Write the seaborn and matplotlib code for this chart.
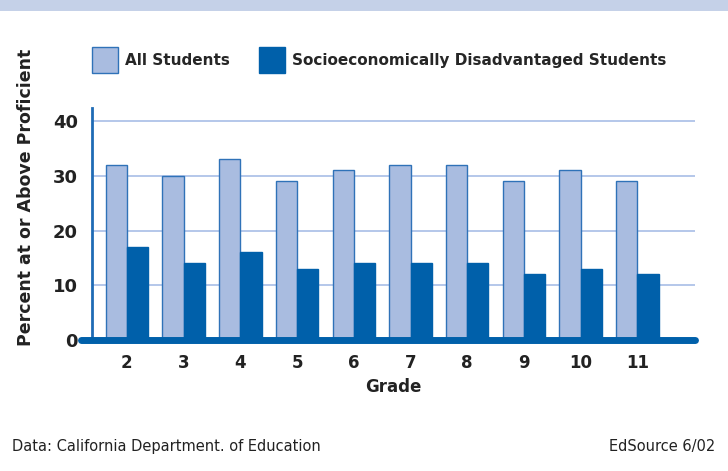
import pandas as pd
import matplotlib
matplotlib.use("Agg")
import matplotlib.pyplot as plt
from matplotlib.patches import Rectangle
import seaborn as sns

grades = ["2", "3", "4", "5", "6", "7", "8", "9", "10", "11"]
all_students = [32, 30, 33, 29, 31, 32, 32, 29, 31, 29]
disadvantaged = [17, 14, 16, 13, 14, 14, 14, 12, 13, 12]
series_names = ["All Students", "Socioeconomically Disadvantaged Students"]
yticks = [0, 10, 20, 30, 40]

light = "#A9BCE0"
dark = "#0060AA"
edge = "#2F72B8"
grid_c = "#A8BEE6"

df = pd.DataFrame({
    "Grade": grades * 2,
    "Percent": all_students + disadvantaged,
    "Group": [series_names[0]] * len(grades) + [series_names[1]] * len(grades),
})

sns.set_style("white")
plt.rcParams["font.family"] = ["DejaVu Sans"]

fig = plt.figure(figsize=(7.28, 4.71), dpi=100)
ax = fig.add_axes([0.126, 0.278, 0.829, 0.493])

sns.barplot(data=df, x="Grade", y="Percent", hue="Group", order=grades,
            hue_order=series_names, palette=[light, dark], saturation=1,
            width=0.75, edgecolor=edge, linewidth=1.0, ax=ax, legend=False)
# dark bars have no visible outline
for bar in ax.containers[1]:
    bar.set_edgecolor(dark)

ax.set_ylim(0, 42.4)
ax.set_xlim(-0.62, 10.02)
ax.set_yticks(yticks)
ax.yaxis.grid(True, color=grid_c, linewidth=1.2)
ax.set_axisbelow(True)

for side in ["top", "right", "bottom"]:
    ax.spines[side].set_visible(False)
ax.spines["left"].set_color("#1F6BB5")
ax.spines["left"].set_linewidth(2)

# thick baseline running a little past the y axis
ax.plot([-0.018, 1.0], [0, 0], transform=ax.transAxes, color=dark, lw=5,
        solid_capstyle="round", clip_on=False, zorder=5)

ax.tick_params(axis="y", length=4, width=2, color="#7FA3D6", direction="out",
               labelsize=13, pad=6, labelcolor="#222222")
ax.tick_params(axis="x", length=0, labelsize=12, pad=10, labelcolor="#222222")
for lab in ax.get_xticklabels() + ax.get_yticklabels():
    lab.set_fontweight("bold")

ax.set_xlabel("Grade", fontsize=12, fontweight="bold", color="#222222", labelpad=4)
ax.set_ylabel("")
fig.text(0.036, 0.58, "Percent at or Above Proficient", rotation=90, fontsize=12.5,
         fontweight="bold", color="#222222", ha="center", va="center")

# legend
handles = [Rectangle((0, 0), 1, 1, facecolor=light, edgecolor=edge),
           Rectangle((0, 0), 1, 1, facecolor=dark, edgecolor=dark)]
fig.legend(handles, series_names, loc="center left", bbox_to_anchor=(0.108, 0.873),
           ncol=2, frameon=False, handlelength=1.7, handleheight=2.2,
           columnspacing=1.9, handletextpad=0.45,
           prop={"weight": "bold", "size": 11})

# header band
fig.add_artist(Rectangle((0, 0.976), 1, 0.024, transform=fig.transFigure,
                         facecolor="#C5D1E8", edgecolor="none"))

fig.text(0.016, 0.053, "Data: California Department. of Education", fontsize=10.5,
         color="#222222", ha="left", va="center")
fig.text(0.982, 0.053, "EdSource 6/02", fontsize=10.5, color="#222222",
         ha="right", va="center")

fig.savefig("out.png", dpi=100, facecolor="white")
